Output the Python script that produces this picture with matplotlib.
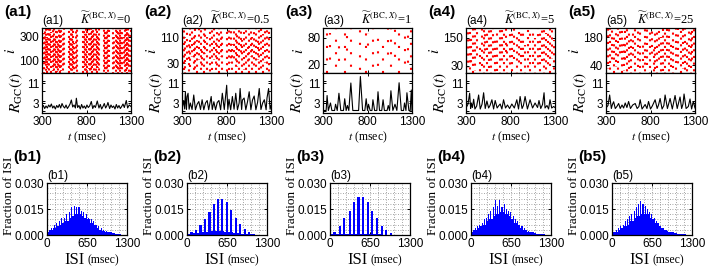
import matplotlib
matplotlib.use("Agg")
import matplotlib.pyplot as plt
from matplotlib.ticker import MultipleLocator

plt.rcParams["font.family"] = ["Liberation Sans", "DejaVu Sans"]
plt.rcParams["mathtext.fontset"] = "stix"
plt.rcParams["xtick.direction"] = "in"
plt.rcParams["ytick.direction"] = "in"

SERIF = ["Liberation Serif", "DejaVu Serif"]
RED = "#ff0000"
BLUE = "#0000ff"

# ---------------------------------------------------------------- data
k_values = ["0", "0.5", "1", "5", "25"]
panel_ids = ["1", "2", "3", "4", "5"]

raster_ylims = [(0, 372), (1, 138), (0, 102), (0, 192), (1, 226)]
raster_yticks = [[100, 300], [30, 110], [20, 80], [30, 150], [40, 180]]

# raster stripes: spike time (msec), lowest and highest cell index of the stripe
stripes_t1 = [305, 318, 330, 342, 355, 368, 380, 392, 405, 418, 430, 443, 455, 468,
              480, 493, 506, 519, 532, 545, 600, 613, 626, 639, 652, 665, 678, 690,
              760, 772, 785, 798, 811, 824, 837, 850, 863, 876, 889, 902, 915, 928,
              940, 995, 1008, 1020, 1033, 1046, 1058, 1100, 1113, 1126, 1139, 1152,
              1165, 1178, 1191, 1204, 1217, 1230, 1243, 1256, 1269, 1282, 1295]
stripes_lo1 = [20, 0, 60, 10, 0, 30, 0, 90, 0, 20, 0, 50, 0, 10, 0, 40, 0, 20, 0, 60,
               0, 30, 0, 10, 40, 0, 20, 0, 0, 50, 0, 10, 0, 30, 0, 20, 0, 60, 0, 10,
               0, 40, 0, 0, 30, 0, 20, 0, 50, 0, 20, 0, 40, 0, 10, 0, 30, 0, 60, 0,
               20, 0, 40, 0, 10]
stripes_hi1 = [372, 330, 372, 372, 300, 372, 372, 372, 340, 372, 372, 300, 372, 372,
               260, 372, 372, 372, 320, 372, 372, 300, 372, 372, 372, 250, 372, 372,
               372, 372, 320, 372, 372, 372, 290, 372, 372, 372, 340, 372, 372, 300,
               372, 372, 372, 330, 372, 372, 372, 372, 300, 372, 372, 372, 340, 372,
               372, 372, 300, 372, 372, 372, 372, 320, 372]

stripes_t2 = [319, 338, 357, 376, 394, 413, 432, 451, 470, 489, 508, 526, 545, 564,
              583, 613, 640, 658, 677, 696, 715, 734, 753, 802, 828, 847, 866, 885,
              904, 923, 942, 960, 979, 998, 1017, 1036, 1055, 1074, 1092, 1111, 1130,
              1149, 1168, 1187, 1206, 1230, 1255, 1281]
stripes_lo2 = [10, 1, 30, 1, 20, 50, 1, 10, 1, 40, 1, 20, 1, 60, 1, 1, 10, 40, 1, 20,
               1, 50, 1, 1, 10, 30, 1, 40, 1, 20, 1, 60, 1, 10, 1, 30, 1, 50, 1, 20,
               1, 40, 1, 10, 1, 30, 1, 1]
stripes_hi2 = [138, 110, 138, 90, 138, 138, 120, 138, 100, 138, 138, 80, 138, 138,
               110, 138, 138, 138, 100, 138, 138, 138, 120, 138, 138, 138, 90, 138,
               138, 120, 138, 138, 100, 138, 138, 80, 138, 138, 110, 138, 138, 100,
               138, 138, 120, 138, 138, 138]

stripes_t3 = [346, 384, 441, 479, 544, 574, 620, 720, 785, 811, 861, 918, 975, 1033,
              1063, 1109, 1155, 1216, 1254, 1292]
stripes_lo3 = [0, 10, 0, 20, 0, 30, 0, 0, 0, 40, 0, 10, 0, 20, 0, 30, 0, 0, 10, 0]
stripes_hi3 = [102, 90, 102, 80, 102, 102, 102, 102, 102, 90, 102, 102, 70, 102,
               102, 102, 102, 102, 90, 102]

stripes_t4 = [305, 322, 341, 360, 382, 404, 428, 453, 476, 498, 516, 535, 558, 580,
              604, 628, 652, 677, 700, 722, 744, 766, 790, 815, 843, 871, 895, 919,
              942, 964, 992, 1020, 1048, 1076, 1104, 1132, 1155, 1177, 1198, 1218,
              1240, 1263, 1285]
stripes_lo4 = [0, 20, 0, 40, 0, 10, 60, 0, 30, 0, 80, 0, 20, 0, 50, 0, 10, 0, 40, 0,
               90, 0, 20, 0, 60, 0, 30, 0, 70, 0, 10, 0, 40, 0, 20, 0, 50, 0, 0, 30,
               0, 60, 0]
stripes_hi4 = [150, 192, 192, 160, 192, 192, 192, 120, 192, 192, 192, 170, 192, 192,
               192, 140, 192, 192, 192, 192, 192, 130, 192, 192, 192, 160, 192, 192,
               192, 120, 192, 192, 192, 150, 192, 192, 192, 192, 170, 192, 192, 192,
               140]

stripes_t5 = [305, 322, 345, 367, 392, 416, 438, 460, 480, 498, 516, 535, 558, 580,
              604, 628, 656, 684, 712, 740, 765, 789, 812, 834, 853, 871, 894, 916,
              940, 964, 988, 1013, 1035, 1057, 1085, 1113, 1138, 1162, 1185, 1207,
              1230, 1251, 1270, 1289]
stripes_lo5 = [0, 20, 0, 60, 0, 30, 0, 90, 0, 10, 50, 0, 20, 0, 70, 0, 30, 0, 10, 0,
               40, 0, 80, 0, 20, 0, 50, 0, 10, 0, 60, 0, 30, 0, 1, 40, 0, 20, 1, 0,
               30, 0, 50, 1]
stripes_hi5 = [200, 226, 226, 226, 180, 226, 226, 226, 226, 150, 226, 226, 226, 170,
               226, 226, 226, 226, 160, 226, 226, 226, 226, 140, 226, 226, 226, 180,
               226, 226, 226, 226, 150, 226, 226, 226, 226, 226, 226, 170, 226, 226,
               226, 226]

# instantaneous population spike rate R_GC(t), polyline vertices
rate_t1 = [300, 315, 330, 345, 360, 375, 390, 405, 420, 435, 450, 465, 480, 495, 510,
           525, 540, 555, 570, 585, 600, 615, 630, 645, 660, 675, 686, 700, 715, 730,
           745, 760, 775, 790, 805, 820, 835, 854, 870, 885, 900, 921, 940, 955, 970,
           985, 1000, 1015, 1030, 1041, 1060, 1075, 1090, 1105, 1120, 1135, 1150,
           1165, 1180, 1195, 1210, 1225, 1247, 1262, 1280, 1300]
rate_v1 = [1.2, 2.0, 0.8, 1.8, 1.0, 2.2, 1.4, 2.6, 1.0, 1.8, 0.6, 2.0, 1.2, 2.4, 1.0,
           2.8, 1.6, 1.0, 2.2, 0.8, 1.6, 2.6, 4.2, 1.4, 2.2, 1.0, 4.9, 1.2, 2.0, 0.6,
           2.4, 1.0, 1.8, 0.8, 2.2, 1.2, 1.8, 3.6, 0.8, 2.0, 1.2, 3.8, 1.0, 2.4, 0.6,
           1.6, 2.8, 1.0, 2.0, 3.2, 0.8, 2.2, 1.2, 1.8, 0.6, 2.4, 1.0, 2.0, 0.8, 1.6,
           2.6, 1.2, 4.0, 1.0, 2.2, 1.6]

rate_t2 = [300, 319, 330, 338, 350, 357, 368, 380, 394, 413, 432, 451, 470, 489, 508,
           526, 545, 564, 583, 600, 613, 628, 640, 658, 677, 696, 715, 734, 753, 775,
           802, 815, 828, 847, 866, 885, 904, 923, 942, 953, 970, 979, 998, 1017,
           1036, 1055, 1074, 1092, 1111, 1130, 1149, 1168, 1187, 1206, 1225, 1245,
           1255, 1273, 1290, 1300]
rate_v2 = [0.5, 4.0, 0.6, 7.5, 0.4, 5.5, 6.9, 0.5, 3.0, 0.4, 6.2, 0.3, 2.5, 3.6, 0.4,
           4.3, 0.3, 3.0, 4.0, 0.3, 2.8, 5.6, 0.4, 3.5, 0.3, 3.2, 4.0, 0.3, 6.9, 0.4,
           10.1, 0.4, 4.5, 0.3, 5.6, 0.5, 6.9, 0.3, 3.0, 8.8, 0.4, 4.2, 5.0, 0.3, 3.5,
           7.5, 0.3, 4.2, 5.8, 0.3, 3.2, 8.8, 0.4, 3.0, 4.3, 0.3, 5.0, 8.8, 0.5, 2.0]

rate_t3 = [300, 335, 346, 360, 384, 400, 430, 441, 460, 479, 500, 530, 544, 560, 574,
           590, 613, 635, 700, 720, 745, 770, 785, 800, 811, 830, 850, 861, 880, 905,
           918, 935, 960, 975, 990, 1020, 1033, 1048, 1063, 1085, 1109, 1130, 1155,
           1180, 1205, 1216, 1232, 1243, 1265, 1280, 1292, 1300]
rate_v3 = [0.0, 0.0, 6.0, 0.0, 3.0, 0.0, 0.0, 2.5, 0.0, 6.9, 0.0, 0.0, 4.7, 0.0, 2.0,
           0.0, 11.0, 0.0, 0.0, 13.6, 0.0, 0.0, 4.7, 0.0, 2.5, 0.0, 0.0, 4.3, 0.0, 0.0,
           7.5, 0.0, 0.0, 4.3, 0.0, 0.0, 2.0, 0.0, 7.9, 0.0, 2.5, 0.0, 11.1, 0.0, 0.0,
           3.0, 0.0, 7.1, 0.0, 0.0, 8.2, 0.0]

rate_t4 = [300, 322, 341, 352, 360, 372, 386, 400, 420, 442, 460, 480, 498, 516, 535,
           554, 570, 591, 610, 628, 650, 665, 684, 703, 722, 744, 766, 790, 815, 843,
           871, 890, 908, 930, 945, 964, 990, 1020, 1048, 1076, 1104, 1120, 1140, 1160,
           1177, 1188, 1210, 1228, 1244, 1263, 1285, 1300]
rate_v4 = [1.0, 2.5, 6.9, 0.8, 3.0, 1.2, 4.5, 0.6, 1.8, 6.2, 0.6, 2.5, 7.1, 0.8, 3.8,
           1.0, 2.0, 4.3, 0.6, 4.0, 1.0, 1.8, 2.6, 0.6, 4.3, 1.0, 2.2, 0.8, 2.6, 1.0,
           4.3, 0.6, 5.6, 0.8, 2.0, 5.6, 0.6, 4.3, 1.0, 3.0, 1.2, 4.0, 0.8, 2.4, 7.1,
           1.0, 2.0, 0.6, 4.3, 1.0, 1.6, 1.2]

rate_t5 = [300, 322, 341, 360, 372, 386, 404, 422, 442, 460, 480, 498, 516, 535, 554,
           575, 600, 628, 650, 670, 684, 705, 740, 760, 778, 800, 820, 852, 875, 890,
           908, 930, 950, 964, 990, 1020, 1045, 1076, 1100, 1115, 1132, 1150, 1165,
           1177, 1200, 1225, 1244, 1262, 1281, 1300]
rate_v5 = [1.0, 2.0, 6.2, 0.8, 2.4, 3.5, 0.8, 1.6, 2.8, 0.8, 2.2, 1.0, 3.0, 1.2, 3.6,
           0.8, 2.2, 2.8, 0.8, 1.6, 4.3, 0.6, 2.4, 0.8, 3.6, 0.6, 1.8, 4.3, 0.8, 2.2,
           4.8, 0.6, 2.0, 6.2, 0.8, 4.8, 0.6, 6.0, 0.8, 3.0, 5.4, 0.8, 2.6, 6.6, 0.8,
           1.6, 4.6, 0.6, 3.6, 1.0]

# ISI histograms: continuous background (step envelope) + comb teeth
isi_base_t = [0, 50, 100, 150, 200, 250, 300, 350, 400, 450, 500, 550, 600, 650, 700,
              750, 800, 850, 900, 950, 1000, 1050, 1100, 1150, 1200, 1300]
isi_base1 = [0.002, 0.003, 0.004, 0.005, 0.006, 0.007, 0.008, 0.010, 0.011, 0.012,
             0.012, 0.011, 0.010, 0.009, 0.007, 0.006, 0.004, 0.003, 0.0025, 0.002,
             0.0015, 0.001, 0.0007, 0.0004, 0.0002, 0.0]
isi_base2 = [0.0008, 0.001, 0.001, 0.0012, 0.0015, 0.0018, 0.002, 0.0022, 0.0025,
             0.0025, 0.0025, 0.0022, 0.002, 0.0018, 0.0015, 0.0012, 0.001, 0.0008,
             0.0006, 0.0005, 0.0004, 0.0003, 0.0002, 0.0001, 0.0, 0.0]
isi_base3 = [0.0003, 0.0003, 0.0003, 0.0004, 0.0004, 0.0005, 0.0005, 0.0005, 0.0005,
             0.0005, 0.0005, 0.0005, 0.0005, 0.0004, 0.0004, 0.0003, 0.0003, 0.0002,
             0.0002, 0.0001, 0.0001, 0.0001, 0.0, 0.0, 0.0, 0.0]
isi_base4 = [0.002, 0.003, 0.004, 0.005, 0.006, 0.008, 0.009, 0.011, 0.012, 0.013,
             0.013, 0.012, 0.011, 0.009, 0.007, 0.006, 0.004, 0.003, 0.002, 0.0015,
             0.001, 0.0008, 0.0005, 0.0003, 0.0001, 0.0]
isi_base5 = [0.0015, 0.002, 0.003, 0.004, 0.005, 0.006, 0.008, 0.010, 0.011, 0.012,
             0.012, 0.012, 0.010, 0.009, 0.007, 0.005, 0.004, 0.003, 0.002, 0.0015,
             0.001, 0.0007, 0.0005, 0.0003, 0.0001, 0.0]

isi_peak_t1 = [40, 80, 120, 160, 200, 240, 280, 320, 360, 400, 440, 480, 520, 560,
               600, 640, 680, 720, 760, 800, 840, 880, 920, 960, 1000]
isi_peak_h1 = [0.003, 0.004, 0.006, 0.007, 0.008, 0.010, 0.010, 0.012, 0.013, 0.016,
               0.017, 0.016, 0.016, 0.014, 0.013, 0.012, 0.010, 0.009, 0.008, 0.006,
               0.005, 0.004, 0.003, 0.0025, 0.002]

isi_peak_t2 = [73, 146, 219, 292, 365, 438, 498, 571, 644, 717, 790, 863, 936, 1009]
isi_peak_h2 = [0.0015, 0.003, 0.0055, 0.0094, 0.0133, 0.0176, 0.0205, 0.0206, 0.0192,
               0.0143, 0.010, 0.0065, 0.0035, 0.0016]

isi_peak_t3 = [73, 156, 234, 318, 391, 463, 541, 614, 687, 765, 838, 910, 989]
isi_peak_h3 = [0.002, 0.005, 0.010, 0.014, 0.019, 0.022, 0.022, 0.019, 0.014, 0.010,
               0.005, 0.003, 0.001]

isi_peak_t4 = [36, 72, 108, 144, 180, 216, 252, 288, 324, 360, 396, 432, 468, 504,
               540, 576, 612, 648, 684, 720, 756, 792, 828, 864, 900, 936, 972, 1008]
isi_peak_h4 = [0.003, 0.004, 0.005, 0.006, 0.007, 0.009, 0.010, 0.012, 0.014, 0.016,
               0.020, 0.017, 0.020, 0.016, 0.018, 0.015, 0.014, 0.013, 0.011, 0.009,
               0.008, 0.006, 0.005, 0.004, 0.003, 0.0025, 0.002, 0.0015]

isi_peak_t5 = [36, 72, 108, 144, 180, 216, 252, 288, 324, 360, 396, 432, 468, 504,
               540, 576, 612, 648, 684, 720, 756, 792, 828, 864, 900, 936, 972, 1008]
isi_peak_h5 = [0.002, 0.003, 0.004, 0.005, 0.006, 0.008, 0.009, 0.011, 0.012, 0.014,
               0.016, 0.018, 0.0195, 0.018, 0.017, 0.015, 0.013, 0.012, 0.010, 0.008,
               0.007, 0.005, 0.004, 0.003, 0.0025, 0.002, 0.0015, 0.001]

stripes = [(stripes_t1, stripes_lo1, stripes_hi1), (stripes_t2, stripes_lo2, stripes_hi2),
           (stripes_t3, stripes_lo3, stripes_hi3), (stripes_t4, stripes_lo4, stripes_hi4),
           (stripes_t5, stripes_lo5, stripes_hi5)]
rates = [(rate_t1, rate_v1), (rate_t2, rate_v2), (rate_t3, rate_v3),
         (rate_t4, rate_v4), (rate_t5, rate_v5)]
hists = [(isi_base1, isi_peak_t1, isi_peak_h1), (isi_base2, isi_peak_t2, isi_peak_h2),
         (isi_base3, isi_peak_t3, isi_peak_h3), (isi_base4, isi_peak_t4, isi_peak_h4),
         (isi_base5, isi_peak_t5, isi_peak_h5)]

# ---------------------------------------------------------------- layout (pixels)
W, H = 709, 271
TOP_LEFTS = [42, 182, 323, 466, 606]
TOP_W = 89
HIST_LEFTS = [47, 187, 330, 471, 612]
HIST_W = 80
DOT_GAPS = [1.4, 2.0, 5.0, 2.4, 2.2]
BAR_W = [18, 34, 34, 18, 18]


def px_axes(fig, left, top, width, height):
    return fig.add_axes([left / W, 1 - (top + height) / H, width / W, height / H])


def style_ticks(ax):
    ax.tick_params(which="both", top=True, right=True, labelsize=8.5, length=2.5,
                   width=0.7, pad=2)
    for sp in ax.spines.values():
        sp.set_linewidth(0.9)


def draw_raster(ax, k):
    t, lo, hi = stripes[k]
    gap = DOT_GAPS[k]
    # stagger the dot phase from one stripe to the next so rows do not line up
    styles = [(j % 4 * (1 + gap) / 4, (1.0, gap)) for j in range(len(t))]
    ax.vlines(t, lo, hi, colors=RED, lw=1.5, linestyles=styles)
    ax.set_xlim(300, 1300)
    ax.set_ylim(*raster_ylims[k])
    ax.set_yticks(raster_yticks[k])
    ax.set_xticks([300, 800, 1300])
    ax.tick_params(labelbottom=False)
    style_ticks(ax)
    ax.set_ylabel(r"$i$", fontsize=11, labelpad=1)
    ax.text(0.0, 1.02, f"(a{panel_ids[k]})", transform=ax.transAxes, fontsize=8.5,
            ha="left", va="bottom")
    ax.text(1.0, 1.02, r"$\widetilde{K}^{(\mathrm{BC},\,X)}$=" + k_values[k],
            transform=ax.transAxes, fontsize=9, ha="right", va="bottom", family=SERIF)


def draw_rate(ax, k):
    t, v = rates[k]
    ax.plot(t, v, color="black", lw=0.8)
    ax.set_xlim(300, 1300)
    ax.set_ylim(-1, 15)
    ax.set_yticks([3, 11])
    ax.yaxis.set_minor_locator(MultipleLocator(4))
    ax.set_xticks([300, 800, 1300])
    style_ticks(ax)
    ax.set_ylabel(r"$R_{\rm GC}(t)$", fontsize=11, labelpad=1)
    ax.set_xlabel(r"$t$ (msec)", fontsize=8.5, family=SERIF, labelpad=1)


def draw_hist(ax, k):
    base, pt, ph = hists[k]
    ax.fill_between(isi_base_t, base, step="post", color=BLUE, lw=0)
    ax.bar(pt, ph, width=BAR_W[k], color=BLUE, lw=0)
    ax.set_xlim(0, 1300)
    ax.set_ylim(0, 0.030)
    ax.set_xticks([0, 650, 1300])
    ax.set_yticks([0.0, 0.015, 0.030])
    ax.set_yticklabels(["0.000", "0.015", "0.030"])
    ax.xaxis.set_minor_locator(MultipleLocator(130))
    ax.yaxis.set_minor_locator(MultipleLocator(0.003))
    ax.grid(which="both", color="#888888", ls=(0, (1, 2)), lw=0.6)
    ax.set_axisbelow(True)
    style_ticks(ax)
    ax.tick_params(which="minor", length=0)
    ax.set_ylabel("Fraction of ISI", fontsize=9.5, family=SERIF)
    ax.yaxis.set_label_coords(-0.40, 0.76)
    ax.text(0.0, 1.02, f"(b{panel_ids[k]})", transform=ax.transAxes, fontsize=8.5,
            ha="left", va="bottom")
    ax.text(0.47, -0.55, "ISI", transform=ax.transAxes, fontsize=12, family=SERIF,
            ha="right", va="baseline")
    ax.text(0.51, -0.55, "(msec)", transform=ax.transAxes, fontsize=8.5, family=SERIF,
            ha="left", va="baseline")


def main():
    fig = plt.figure(figsize=(W / 100, H / 100), dpi=100)
    for k in range(5):
        draw_raster(px_axes(fig, TOP_LEFTS[k], 28, TOP_W, 45), k)
        draw_rate(px_axes(fig, TOP_LEFTS[k], 73, TOP_W, 40), k)
        draw_hist(px_axes(fig, HIST_LEFTS[k], 183, HIST_W, 52), k)
        fig.text((TOP_LEFTS[k] - 38) / W, 1 - 12 / H, f"(a{panel_ids[k]})",
                 fontsize=11, fontweight="bold", va="center", ha="left")
        fig.text((HIST_LEFTS[k] - 34) / W, 1 - 157 / H, f"(b{panel_ids[k]})",
                 fontsize=11, fontweight="bold", va="center", ha="left")
    fig.savefig("out.png", dpi=100)
    plt.close(fig)


if __name__ == "__main__":
    main()
